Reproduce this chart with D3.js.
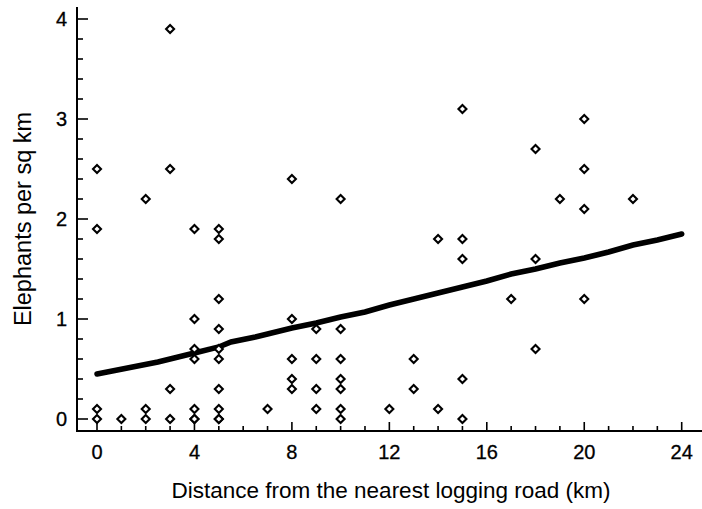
<!DOCTYPE html>
<html><head><meta charset="utf-8">
<script src="https://cdn.jsdelivr.net/npm/d3@7/dist/d3.min.js"></script>
<style>body{margin:0;background:#fff}svg{display:block}text{font-family:"Liberation Sans",Arial,sans-serif;fill:#000}</style>
</head><body><svg id="c" width="702" height="509"></svg>
<script>
// Scatter data: distance (km) and elephants per sq km
const distances = [0,0,0,0, 1, 2,2,2, 3,3,3,3, 4,4,4,4,4,4,4, 5,5,5,5,5,5,5,5,5,5,
  7, 8,8,8,8,8, 9,9,9,9, 10,10,10,10,10,10,10, 12, 13,13, 14,14, 15,15,15,15,15,
  17, 18,18,18, 19, 20,20,20,20, 22];
const densities = [2.5,1.9,0.1,0.0, 0.0, 2.2,0.1,0.0, 3.9,2.5,0.3,0.0, 1.9,1.0,0.7,0.6,0.1,0.0,0.0, 1.9,1.8,1.2,0.9,0.7,0.6,0.3,0.1,0.0,0.0,
  0.1, 2.4,1.0,0.6,0.4,0.3, 0.9,0.6,0.3,0.1, 2.2,0.9,0.6,0.4,0.3,0.1,0.0, 0.1, 0.6,0.3, 1.8,0.1, 3.1,1.8,1.6,0.4,0.0,
  1.2, 2.7,1.6,0.7, 2.2, 3.0,2.5,2.1,1.2, 2.2];
// Fitted trend line
const fitX = [0,2.5,4,5,5.5,6.5,8,9,10,11,12,13,14,15,16,17,18,19,20,21,22,23,24];
const fitY = [0.45,0.57,0.66,0.72,0.77,0.82,0.91,0.96,1.02,1.07,1.14,1.2,1.26,1.32,1.38,1.45,1.50,1.56,1.61,1.67,1.74,1.79,1.85];
const xTicks = [0,4,8,12,16,20,24];
const yTicks = [0,1,2,3,4];
const xLabel = "Distance from the nearest logging road (km)";
const yLabel = "Elephants per sq km";

const svg = d3.select("#c");
const x = d3.scaleLinear().domain([0,24]).range([97,681.7]);
const y = d3.scaleLinear().domain([0,4]).range([419,19]);
const axisX = 77, axisY = 431;

const g = svg.append("g");
// axes lines
g.append("line").attr("x1",axisX).attr("x2",axisX).attr("y1",7).attr("y2",axisY).attr("stroke","#000").attr("stroke-width",2);
g.append("line").attr("x1",axisX-1).attr("x2",702).attr("y1",axisY).attr("y2",axisY).attr("stroke","#000").attr("stroke-width",2);

// y ticks (inside)
const yMinor = d3.range(0,4.01,0.2);
g.selectAll(".ymn").data(yMinor).join("line")
  .attr("x1",axisX).attr("x2",d=>Math.abs(d-Math.round(d))<1e-6?axisX+11:axisX+6)
  .attr("y1",d=>y(d)).attr("y2",d=>y(d)).attr("stroke","#000").attr("stroke-width",1.6);
g.selectAll(".ylab").data(yTicks).join("text")
  .attr("x",axisX-10).attr("y",d=>y(d)).attr("dy","0.36em").attr("text-anchor","end")
  .attr("font-size",20).attr("stroke","#000").attr("stroke-width",0.3).text(d=>d);

// x ticks (inside)
const xMinor = d3.range(0,24.01,1);
g.selectAll(".xmn").data(xMinor).join("line")
  .attr("x1",d=>x(d)).attr("x2",d=>x(d)).attr("y1",axisY)
  .attr("y2",d=>d%4===0?axisY-9:axisY-5).attr("stroke","#000").attr("stroke-width",1.6);
g.selectAll(".xlab").data(xTicks).join("text")
  .attr("x",d=>x(d)).attr("y",459).attr("text-anchor","middle")
  .attr("font-size",20).attr("stroke","#000").attr("stroke-width",0.3).text(d=>d);

// titles
g.append("text").attr("x",391).attr("y",498).attr("text-anchor","middle").attr("font-size",22.5).text(xLabel);
g.append("text").attr("transform","translate(31,219) rotate(-90)").attr("text-anchor","middle").attr("font-size",23.5).text(yLabel);

// trend line
const line = d3.line().x(i=>x(fitX[i])).y(i=>y(fitY[i]));
g.append("path").attr("d",line(d3.range(fitX.length))).attr("fill","none").attr("stroke","#000").attr("stroke-width",5.5).attr("stroke-linecap","round");

// diamonds
const r = 4;
g.selectAll(".pt").data(d3.range(distances.length)).join("path")
  .attr("d",i=>{const cx=x(distances[i]), cy=y(densities[i]);return `M${cx},${cy-r}L${cx+r},${cy}L${cx},${cy+r}L${cx-r},${cy}Z`;})
  .attr("fill","#fff").attr("stroke","#000").attr("stroke-width",2.1);
</script></body></html>
